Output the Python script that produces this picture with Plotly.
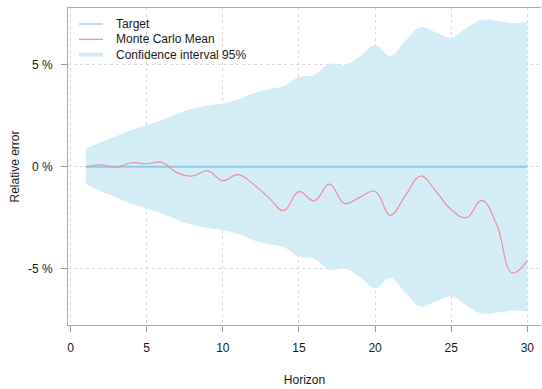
import plotly.graph_objects as go

horizon = list(range(1, 31))
mc_mean = [0.0, 0.1, -0.02, 0.2, 0.15, 0.22, -0.3, -0.45, -0.2, -0.68,
           -0.38, -0.85, -1.5, -2.15, -1.22, -1.67, -0.85, -1.8, -1.5, -1.2,
           -2.38, -1.4, -0.45, -1.2, -2.1, -2.5, -1.65, -2.85, -5.2, -4.6]
ci_upper = [0.9, 1.2, 1.5, 1.8, 2.05, 2.3, 2.6, 2.85, 3.0, 3.1,
            3.3, 3.6, 3.8, 3.95, 4.4, 4.5, 5.05, 5.0, 5.4, 5.95,
            5.45, 6.2, 6.85, 6.6, 6.35, 6.8, 7.2, 7.15, 7.05, 7.1]
ci_lower = [-0.85, -1.2, -1.5, -1.8, -2.05, -2.3, -2.6, -2.85, -3.0, -3.1,
            -3.3, -3.6, -3.8, -3.95, -4.4, -4.5, -5.05, -5.0, -5.4, -5.95,
            -5.45, -6.2, -6.85, -6.6, -6.35, -6.8, -7.2, -7.15, -7.05, -7.1]
target = [0.0] * 30
x_ticks = [0, 5, 10, 15, 20, 25, 30]
y_ticks = [-5, 0, 5]
y_labels = ["-5 %", "0 %", "5 %"]

BAND = "#D5EDF7"
TARGET = "#8CCBE6"
MEAN = "#E8909E"
TXT = "#1a1a1a"
FONT = "Liberation Sans, Arial, sans-serif"

fig = go.Figure()
fig.add_trace(go.Scatter(x=horizon, y=ci_lower, mode="lines",
                         line=dict(width=0, shape="spline", smoothing=1.2, color=BAND),
                         hoverinfo="skip", showlegend=False))
fig.add_trace(go.Scatter(x=horizon, y=ci_upper, mode="lines", fill="tonexty",
                         fillcolor=BAND, line=dict(width=0, shape="spline", smoothing=1.2, color=BAND),
                         showlegend=False, name="Confidence interval 95%"))
fig.add_trace(go.Scatter(x=horizon, y=target, mode="lines",
                         line=dict(width=2, color=TARGET), showlegend=False, name="Target"))
fig.add_trace(go.Scatter(x=horizon, y=mc_mean, mode="lines",
                         line=dict(width=1.2, color=MEAN, shape="spline", smoothing=1.2),
                         showlegend=False, name="Monte Carlo Mean"))

# manual legend
legend_items = [("Target", TARGET, 1.2), ("Monte Carlo Mean", MEAN, 1.2),
                ("Confidence interval 95%", BAND, 4)]
W, H = 542, 389
ml, mr, mt, mb = 68, 1, 8, 64
pw, ph = W - ml - mr, H - mt - mb
def px(xp):
    return (xp - ml) / pw
def py(yp):
    return 1 - (yp - mt) / ph
for i, (name, col, lw) in enumerate(legend_items):
    yy = 24 + i * 15.3
    fig.add_shape(type="line", xref="paper", yref="paper",
                  x0=px(79), x1=px(103), y0=py(yy), y1=py(yy),
                  line=dict(color=col, width=lw))
    fig.add_annotation(xref="paper", yref="paper", x=px(114), y=py(yy),
                       text=name, showarrow=False, xanchor="left", yanchor="middle",
                       font=dict(size=12, color=TXT, family=FONT))

fig.update_layout(
    width=W, height=H,
    margin=dict(l=ml, r=mr, t=mt, b=mb, autoexpand=False),
    plot_bgcolor="white", paper_bgcolor="white",
    font=dict(family=FONT, size=12, color=TXT),
    showlegend=False,
    xaxis=dict(range=[-0.17, 30.9], tickvals=x_ticks, ticks="outside", ticklen=6,
               tickcolor="#999", showline=True, linecolor="#aaa", linewidth=1, mirror=True,
               showgrid=True, gridcolor="#d8d8d8", griddash="dot", gridwidth=1,
               zeroline=False, layer="above traces", ticklabelstandoff=6, automargin=False,
               tickfont=dict(color=TXT),
               title=dict(text="Horizon", standoff=21, font=dict(size=12, color=TXT))),
    yaxis=dict(range=[-7.76, 7.79], tickvals=y_ticks, ticktext=y_labels, ticks="outside",
               ticklen=6, tickcolor="#999", showline=True, linecolor="#aaa", linewidth=1,
               showgrid=True, gridcolor="#d8d8d8", griddash="dot", gridwidth=1,
               zeroline=False, layer="above traces", ticklabelstandoff=6, automargin=False,
               tickfont=dict(color=TXT),
               title=dict(text="Relative error", standoff=5, font=dict(size=12, color=TXT))),
)
fig.write_html("out.html", config={"displayModeBar": False},
               post_script="document.body.style.margin='0';document.body.style.overflow='hidden';")
